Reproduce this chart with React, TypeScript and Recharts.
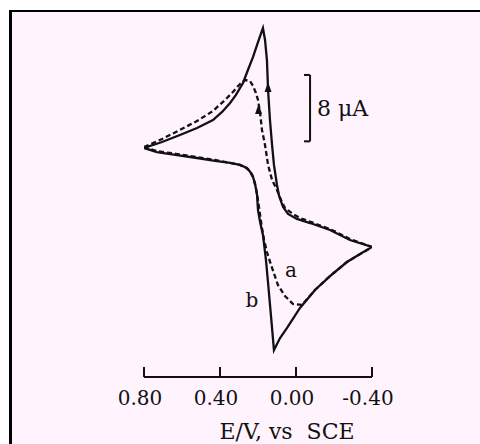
import { LineChart, Line, XAxis, YAxis, ReferenceLine, ReferenceDot } from "recharts";

// potential (V vs SCE) and current (uA)
const curveB_E = [-0.4, -0.284, -0.179, -0.074, -0.005, 0.042, 0.068, 0.089, 0.1, 0.116, 0.126, 0.137, 0.147, 0.153, 0.163, 0.174, 0.2, 0.226, 0.253, 0.279, 0.316, 0.347, 0.389, 0.437, 0.521, 0.611, 0.705, 0.8, 0.732, 0.626, 0.521, 0.426, 0.347, 0.295, 0.258, 0.232, 0.216, 0.205, 0.2, 0.189, 0.174, 0.158, 0.147, 0.132, 0.116, 0.084, 0.047, -0.021, -0.1, -0.179, -0.268, -0.337, -0.4];
const curveB_I = [-6.33, -5.49, -4.28, -3.44, -2.95, -2.35, -1.51, -0.18, 1.15, 3.56, 5.97, 8.98, 12.6, 16.21, 18.63, 20.07, 18.38, 16.58, 15.01, 13.44, 12.0, 11.03, 9.95, 8.98, 8.02, 7.17, 6.33, 5.61, 5.12, 4.76, 4.4, 4.04, 3.8, 3.56, 3.19, 2.47, 1.39, -0.06, -1.87, -3.32, -4.88, -7.9, -10.67, -14.53, -18.75, -17.3, -16.09, -13.68, -11.51, -9.83, -8.14, -7.17, -6.33];

const curveA_E = [0.8, 0.705, 0.611, 0.521, 0.437, 0.374, 0.332, 0.295, 0.268, 0.242, 0.226, 0.211, 0.2, 0.189, 0.179, 0.163, 0.147, 0.126, 0.1, 0.079, 0.058, 0.016, -0.021, -0.179, -0.284, -0.4, -0.268, -0.179, -0.1, -0.032, 0.016, 0.058, 0.095, 0.126, 0.153, 0.168, 0.179, 0.189, 0.2, 0.211, 0.226, 0.253, 0.295, 0.347, 0.426, 0.521, 0.626, 0.732, 0.8];
const curveA_I = [5.73, 6.69, 7.78, 8.86, 10.07, 11.39, 12.36, 13.32, 13.8, 13.68, 13.08, 12.24, 11.39, 9.83, 7.78, 5.97, 3.56, 1.75, 0.54, -0.66, -1.63, -2.35, -2.83, -4.16, -5.36, -6.33, -8.14, -9.83, -11.51, -13.32, -13.2, -12.24, -10.91, -8.86, -6.93, -5.49, -4.04, -2.47, -0.66, 0.78, 2.11, 3.07, 3.56, 3.8, 4.16, 4.52, 4.88, 5.24, 5.73];

const xTicks = [0.8, 0.4, 0, -0.4];
const xTickLabels = ["0.80", "0.40", "0.00", "-0.40"];

const scaleBarE = -0.074;
const scaleBarTop = 14.41;
const scaleBarSize = 8;

const curveB = curveB_E.map((E, k) => ({ E, i: curveB_I[k] }));
const curveA = curveA_E.map((E, k) => ({ E, i: curveA_I[k] }));

const ink = "#111";
const serif = "'DejaVu Serif', serif";

function Tick({ x, y, payload }: any) {
  const k = xTicks.indexOf(payload.value);
  return (
    <g>
      <line x1={x} x2={x} y1={y} y2={y - 10} stroke={ink} strokeWidth={2} />
      <text x={x - 4} y={y + 28} textAnchor="middle" fontFamily={serif} fontSize={20} fill="#111">
        {xTickLabels[k]}
      </text>
    </g>
  );
}

const arrowUp = ({ cx, cy }: any) => (
  <polygon points={`${cx},${cy - 6} ${cx - 3.5},${cy + 4} ${cx + 3.5},${cy + 4}`} fill={ink} />
);

export default function App() {
  return (
    <>
      <div
        style={{
          position: "fixed", left: 9, top: 10, width: 471, height: 434,
          borderLeft: "3px solid #000", borderTop: "2px solid #000", background: "#fff4fe",
        }}
      />
      <div style={{ position: "fixed", left: 0, top: 0 }}>
        <LineChart width={480} height={444} margin={{ top: 12, right: 108, bottom: 0, left: 144 }}>
          <XAxis
            type="number" dataKey="E" domain={[-0.4, 0.8]} reversed ticks={xTicks}
            allowDataOverflow height={67} tickSize={0} tickMargin={0} tick={<Tick />}
            axisLine={{ stroke: ink, strokeWidth: 2 }} tickLine={false}
            label={{ value: "E/V, vs\u00a0 SCE", position: "insideBottom", offset: 5, dx: 29, fontFamily: serif, fontSize: 22, fill: "#111" }}
          />
          <YAxis type="number" dataKey="i" domain={[-22, 22]} hide allowDataOverflow />
          <Line data={curveB} dataKey="i" type="linear" stroke={ink} strokeWidth={2.3} dot={false} isAnimationActive={false} />
          <Line data={curveA} dataKey="i" type="linear" stroke={ink} strokeWidth={2.3} strokeDasharray="5 3" dot={false} isAnimationActive={false} />
          <ReferenceLine
            segment={[{ x: scaleBarE, y: scaleBarTop }, { x: scaleBarE, y: scaleBarTop - scaleBarSize }]}
            stroke={ink} strokeWidth={2}
            label={{ value: "8 μA", position: "right", offset: 7, fontFamily: serif, fontSize: 22, fill: "#111" }}
          />
          <ReferenceLine segment={[{ x: -0.042, y: scaleBarTop }, { x: scaleBarE, y: scaleBarTop }]} stroke={ink} strokeWidth={2} />
          <ReferenceLine segment={[{ x: -0.042, y: scaleBarTop - scaleBarSize }, { x: scaleBarE, y: scaleBarTop - scaleBarSize }]} stroke={ink} strokeWidth={2} />
          <ReferenceDot x={0.147} y={12.84} shape={arrowUp} />
          <ReferenceDot x={0.197} y={10.19} shape={arrowUp} />
          <ReferenceDot x={0.026} y={-9.1} r={0} label={{ value: "a", position: "center", fontFamily: serif, fontSize: 20, fill: "#111" }} />
          <ReferenceDot x={0.232} y={-12.72} r={0} label={{ value: "b", position: "center", fontFamily: serif, fontSize: 20, fill: "#111" }} />
        </LineChart>
      </div>
    </>
  );
}
